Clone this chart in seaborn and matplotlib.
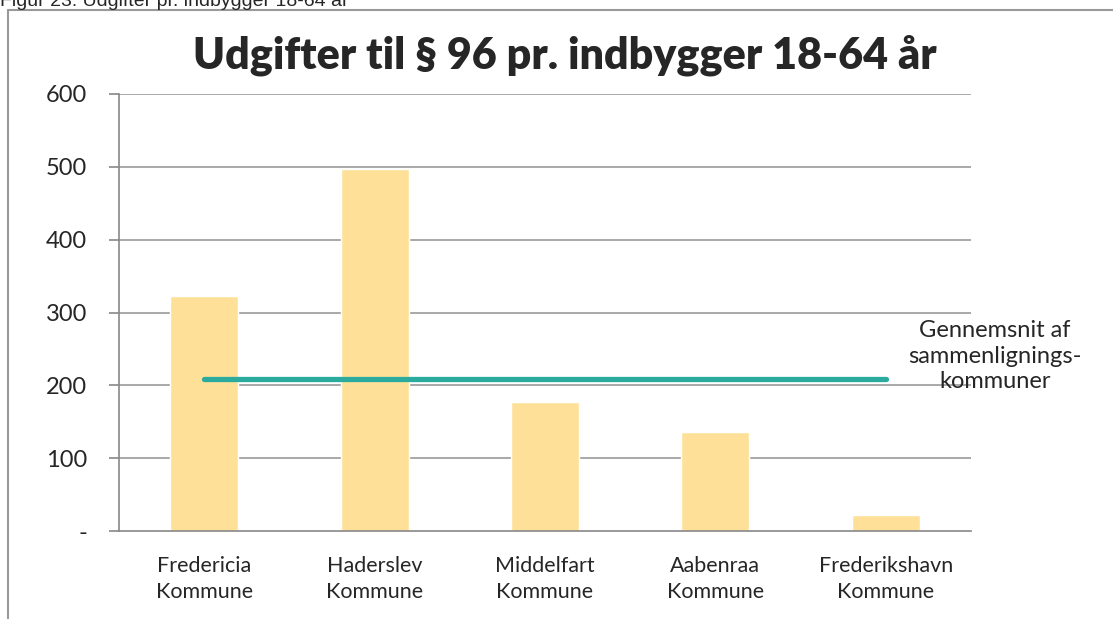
import numpy as np
import pandas as pd
import matplotlib
matplotlib.use("Agg")
import matplotlib.pyplot as plt
from matplotlib.lines import Line2D
import seaborn as sns

# Data
kommuner = ["Fredericia\nKommune", "Haderslev\nKommune", "Middelfart\nKommune",
            "Aabenraa\nKommune", "Frederikshavn\nKommune"]
udgifter = [323, 497, 177, 136, 22]
gennemsnit = [209, 209, 209, 209, 209]
y_ticks = [0, 100, 200, 300, 400, 500, 600]
y_labels = ["-", "100", "200", "300", "400", "500", "600"]

df = pd.DataFrame({"Kommune": kommuner, "Udgift": udgifter, "Snit": gennemsnit})

sns.set_theme(style="white")
plt.rcParams["font.family"] = ["Lato", "DejaVu Sans"]

fig = plt.figure(figsize=(11.13, 6.19), dpi=100)
ax = fig.add_axes([119 / 1113, 1 - 531 / 619, (971 - 119) / 1113, (531 - 94) / 619])

sns.barplot(data=df, x="Kommune", y="Udgift", color="#FFE099", width=0.4,
            saturation=1, ax=ax, zorder=2)
sns.lineplot(x=np.arange(len(kommuner)), y=df["Snit"], color="#2BAA9E",
             linewidth=3.8, solid_capstyle="round", ax=ax, zorder=3)

ax.set_xlim(-0.5, 4.5)
ax.set_ylim(0, 600)
ax.set_yticks(y_ticks)
ax.set_yticklabels(y_labels, fontsize=17)
ax.set_xticks(range(len(kommuner)))
ax.set_xticklabels(kommuner, fontsize=15.5, linespacing=1.4)
ax.tick_params(axis="x", length=0, pad=18)
ax.set_xticks(np.arange(-0.5, 5, 1), minor=True)
ax.tick_params(axis="x", which="minor", length=7, color="#888888", width=1.2)
ax.tick_params(axis="y", length=7, color="#888888", width=1.2, pad=16, left=True)
ax.set_xlabel("")
ax.set_ylabel("")

for v in y_ticks[1:]:
    ax.axhline(v, color="#999999", linewidth=1.2, zorder=1)

for s in ["top", "right"]:
    ax.spines[s].set_visible(False)
for s in ["left", "bottom"]:
    ax.spines[s].set_color("#888888")
    ax.spines[s].set_linewidth(1.2)

ax.set_title("Udgifter til § 96 pr. indbygger 18-64 år", fontsize=31,
             fontweight="heavy", pad=18, x=0.523)

ax.text(4.64, 240, "Gennemsnit af\nsammenlignings-\nkommuner", fontsize=17,
        ha="center", va="center", linespacing=1.27, clip_on=False)

# caption above the frame, cut off at the top
fig.text(0.0, 1 - 6 / 619, "Figur 23: Udgifter pr. indbygger 18-64 år",
         fontsize=14, family="Liberation Sans", va="baseline")

# outer chart frame
fig.add_artist(Line2D([8 / 1113, 8 / 1113], [0, 1 - 10 / 619], color="#999999", lw=1.5))
fig.add_artist(Line2D([8 / 1113, 1], [1 - 10 / 619, 1 - 10 / 619], color="#999999", lw=1.5))

fig.savefig("out.png", dpi=100)
